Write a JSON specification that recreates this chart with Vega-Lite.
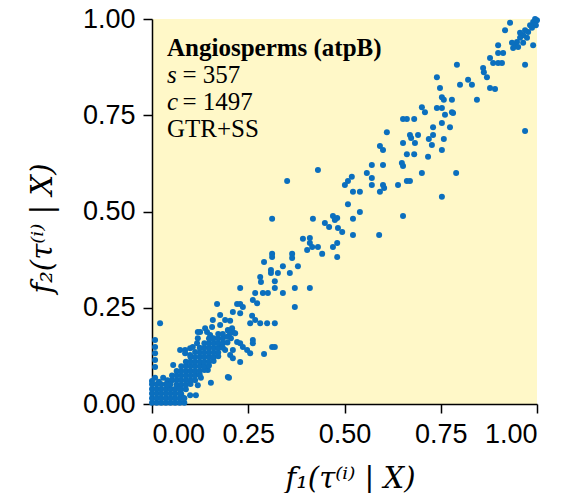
{
  "$schema": "https://vega.github.io/schema/vega-lite/v6.json",
  "width": 385,
  "height": 385,
  "autosize": {"type": "none"},
  "padding": {"left": 152, "top": 19, "right": 26, "bottom": 89},
  "background": "white",
  "config": {
    "view": {"stroke": null, "fill": "#FFF8C8"},
    "axis": {
      "domainColor": "black", "domainWidth": 1.5,
      "tickColor": "black", "tickWidth": 1.5, "tickSize": 9,
      "labelFont": "Liberation Sans", "labelFontSize": 27, "labelColor": "black",
      "grid": false,
      "titleFont": "DejaVu Serif", "titleFontStyle": "italic", "titleFontWeight": "normal",
      "titleFontSize": 29, "titleColor": "black", "titleBaseline": "alphabetic"
    }
  },
  "layer": [
    {
      "data": {"name": "pts", "values": [
        {"f1":0.930,"f2":0.990},{"f1":0.917,"f2":0.971},{"f1":0.990,"f2":0.992},{"f1":1.0,"f2":0.997},{"f1":0.997,"f2":0.984},
        {"f1":0.987,"f2":0.977},{"f1":0.977,"f2":0.966},{"f1":0.964,"f2":0.958},{"f1":0.956,"f2":0.951},{"f1":0.948,"f2":0.940},
        {"f1":0.943,"f2":0.932},{"f1":0.935,"f2":0.938},{"f1":0.938,"f2":0.925},{"f1":0.951,"f2":0.927},{"f1":0.964,"f2":0.938},
        {"f1":0.990,"f2":0.932},{"f1":0.974,"f2":0.951},{"f1":0.995,"f2":1.0},{"f1":0.982,"f2":0.984},{"f1":0.969,"f2":0.971},
        {"f1":0.956,"f2":0.964},{"f1":0.899,"f2":0.932},{"f1":0.899,"f2":0.912},{"f1":0.912,"f2":0.912},{"f1":0.878,"f2":0.899},
        {"f1":0.886,"f2":0.886},{"f1":0.899,"f2":0.886},{"f1":0.909,"f2":0.886},{"f1":0.969,"f2":0.881},{"f1":0.860,"f2":0.873},
        {"f1":0.870,"f2":0.849},{"f1":0.862,"f2":0.862},{"f1":0.792,"f2":0.881},{"f1":0.740,"f2":0.849},{"f1":0.800,"f2":0.829},
        {"f1":0.821,"f2":0.842},{"f1":0.831,"f2":0.829},{"f1":0.878,"f2":0.821},{"f1":0.891,"f2":0.818},{"f1":0.748,"f2":0.821},
        {"f1":0.753,"f2":0.797},{"f1":0.758,"f2":0.790},{"f1":0.779,"f2":0.790},{"f1":0.844,"f2":0.790},{"f1":0.701,"f2":0.771},
        {"f1":0.709,"f2":0.758},{"f1":0.740,"f2":0.769},{"f1":0.753,"f2":0.769},{"f1":0.779,"f2":0.758},{"f1":0.761,"f2":0.751},
        {"f1":0.782,"f2":0.756},{"f1":0.652,"f2":0.740},{"f1":0.662,"f2":0.740},{"f1":0.681,"f2":0.740},{"f1":0.753,"f2":0.730},
        {"f1":0.730,"f2":0.719},{"f1":0.774,"f2":0.719},{"f1":0.610,"f2":0.706},{"f1":0.969,"f2":0.709},{"f1":0.670,"f2":0.699},
        {"f1":0.673,"f2":0.691},{"f1":0.683,"f2":0.678},{"f1":0.691,"f2":0.699},{"f1":0.730,"f2":0.699},{"f1":0.719,"f2":0.688},
        {"f1":0.727,"f2":0.673},{"f1":0.758,"f2":0.688},{"f1":0.652,"f2":0.678},{"f1":0.592,"f2":0.670},{"f1":0.600,"f2":0.660},
        {"f1":0.662,"f2":0.649},{"f1":0.681,"f2":0.649},{"f1":0.717,"f2":0.642},{"f1":0.753,"f2":0.660},{"f1":0.649,"f2":0.626},
        {"f1":0.652,"f2":0.618},{"f1":0.571,"f2":0.621},{"f1":0.600,"f2":0.621},{"f1":0.431,"f2":0.608},{"f1":0.558,"f2":0.600},
        {"f1":0.571,"f2":0.587},{"f1":0.701,"f2":0.600},{"f1":0.790,"f2":0.600},{"f1":0.351,"f2":0.579},{"f1":0.519,"f2":0.590},
        {"f1":0.509,"f2":0.579},{"f1":0.501,"f2":0.569},{"f1":0.662,"f2":0.579},{"f1":0.670,"f2":0.579},{"f1":0.571,"f2":0.569},
        {"f1":0.600,"f2":0.569},{"f1":0.603,"f2":0.561},{"f1":0.592,"f2":0.551},{"f1":0.639,"f2":0.569},{"f1":0.522,"f2":0.551},
        {"f1":0.540,"f2":0.551},{"f1":0.753,"f2":0.538},{"f1":0.509,"f2":0.519},{"f1":0.540,"f2":0.499},{"f1":0.418,"f2":0.481},
        {"f1":0.470,"f2":0.488},{"f1":0.481,"f2":0.483},{"f1":0.475,"f2":0.478},{"f1":0.522,"f2":0.481},{"f1":0.652,"f2":0.488},
        {"f1":0.449,"f2":0.470},{"f1":0.460,"f2":0.460},{"f1":0.483,"f2":0.457},{"f1":0.494,"f2":0.447},{"f1":0.522,"f2":0.439},
        {"f1":0.590,"f2":0.439},{"f1":0.392,"f2":0.429},{"f1":0.410,"f2":0.431},{"f1":0.410,"f2":0.418},{"f1":0.416,"f2":0.408},
        {"f1":0.431,"f2":0.408},{"f1":0.470,"f2":0.408},{"f1":0.481,"f2":0.418},{"f1":0.403,"f2":0.400},{"f1":0.364,"f2":0.390},
        {"f1":0.364,"f2":0.379},{"f1":0.442,"f2":0.390},{"f1":0.481,"f2":0.382},{"f1":0.312,"f2":0.481},{"f1":0.312,"f2":0.390},
        {"f1":0.312,"f2":0.382},{"f1":0.291,"f2":0.369},{"f1":0.340,"f2":0.358},{"f1":0.309,"f2":0.348},{"f1":0.309,"f2":0.340},
        {"f1":0.327,"f2":0.340},{"f1":0.358,"f2":0.340},{"f1":0.379,"f2":0.358},{"f1":0.281,"f2":0.330},{"f1":0.283,"f2":0.317},
        {"f1":0.319,"f2":0.319},{"f1":0.319,"f2":0.301},{"f1":0.340,"f2":0.288},{"f1":0.371,"f2":0.301},{"f1":0.371,"f2":0.252},
        {"f1":0.268,"f2":0.288},{"f1":0.288,"f2":0.288},{"f1":0.301,"f2":0.288},{"f1":0.229,"f2":0.301},{"f1":0.410,"f2":0.301},
        {"f1":0.169,"f2":0.260},{"f1":0.221,"f2":0.260},{"f1":0.229,"f2":0.260},{"f1":0.236,"f2":0.252},{"f1":0.262,"f2":0.270},
        {"f1":0.273,"f2":0.262},{"f1":0.177,"f2":0.231},{"f1":0.210,"f2":0.239},{"f1":0.229,"f2":0.236},{"f1":0.260,"f2":0.229},
        {"f1":0.268,"f2":0.218},{"f1":0.255,"f2":0.210},{"f1":0.281,"f2":0.210},{"f1":0.299,"f2":0.210},{"f1":0.319,"f2":0.210},
        {"f1":0.158,"f2":0.218},{"f1":0.156,"f2":0.200},{"f1":0.177,"f2":0.205},{"f1":0.203,"f2":0.216},{"f1":0.208,"f2":0.197},
        {"f1":0.210,"f2":0.187},{"f1":0.203,"f2":0.184},{"f1":0.216,"f2":0.184},{"f1":0.138,"f2":0.197},{"f1":0.143,"f2":0.187},
        {"f1":0.125,"f2":0.187},{"f1":0.021,"f2":0.210},{"f1":0.262,"f2":0.166},{"f1":0.262,"f2":0.158},{"f1":0.221,"f2":0.161},
        {"f1":0.229,"f2":0.158},{"f1":0.236,"f2":0.148},{"f1":0.247,"f2":0.140},{"f1":0.255,"f2":0.132},{"f1":0.312,"f2":0.148},
        {"f1":0.319,"f2":0.148},{"f1":0.291,"f2":0.130},{"f1":0.210,"f2":0.140},{"f1":0.210,"f2":0.119},{"f1":0.229,"f2":0.109},
        {"f1":0.119,"f2":0.187},{"f1":0.119,"f2":0.171},{"f1":0.008,"f2":0.166},{"f1":0.008,"f2":0.148},{"f1":0.008,"f2":0.132},
        {"f1":0.008,"f2":0.114},{"f1":0.008,"f2":0.096},{"f1":0.073,"f2":0.140},{"f1":0.086,"f2":0.140},{"f1":0.099,"f2":0.145},
        {"f1":0.106,"f2":0.148},{"f1":0.117,"f2":0.158},{"f1":0.200,"f2":0.068},{"f1":0.145,"f2":0.088},{"f1":0.153,"f2":0.055},
        {"f1":0.099,"f2":0.023},{"f1":0.114,"f2":0.023},{"f1":0.190,"f2":0.218},{"f1":0.197,"f2":0.192},
        {"f1":0.055,"f2":0.101},{"f1":0.086,"f2":0.132},{"f1":0.099,"f2":0.127},{"f1":0.112,"f2":0.135},{"f1":0.151,"f2":0.179},
        {"f1":0.158,"f2":0.171},{"f1":0.205,"f2":0.171},{"f1":0.177,"f2":0.148},{"f1":0.190,"f2":0.140},{"f1":0.203,"f2":0.127},
        {"f1":0.119,"f2":0.049},{"f1":0.127,"f2":0.068},{"f1":0.197,"f2":0.070},{"f1":0.075,"f2":0.023},{"f1":0.081,"f2":0.016},
        {"f1":0.008,"f2":0.068},{"f1":0.029,"f2":0.068},
        {"f1":0.04,"f2":0.062},
        {"f1":0.052,"f2":0.062},{"f1":0.052,"f2":0.074},
        {"f1":0.064,"f2":0.050},{"f1":0.064,"f2":0.062},{"f1":0.064,"f2":0.074},{"f1":0.064,"f2":0.086},
        {"f1":0.076,"f2":0.026},{"f1":0.076,"f2":0.038},{"f1":0.076,"f2":0.050},{"f1":0.076,"f2":0.062},{"f1":0.076,"f2":0.074},{"f1":0.076,"f2":0.086},{"f1":0.076,"f2":0.098},
        {"f1":0.088,"f2":0.038},{"f1":0.088,"f2":0.050},{"f1":0.088,"f2":0.062},{"f1":0.088,"f2":0.074},{"f1":0.088,"f2":0.086},{"f1":0.088,"f2":0.098},{"f1":0.088,"f2":0.110},
        {"f1":0.100,"f2":0.052},{"f1":0.100,"f2":0.062},{"f1":0.100,"f2":0.074},{"f1":0.100,"f2":0.086},{"f1":0.100,"f2":0.098},{"f1":0.100,"f2":0.110},{"f1":0.100,"f2":0.122},
        {"f1":0.112,"f2":0.062},{"f1":0.112,"f2":0.074},{"f1":0.112,"f2":0.086},{"f1":0.112,"f2":0.098},{"f1":0.112,"f2":0.110},{"f1":0.112,"f2":0.122},
        {"f1":0.124,"f2":0.076},{"f1":0.124,"f2":0.086},{"f1":0.124,"f2":0.098},{"f1":0.124,"f2":0.110},{"f1":0.124,"f2":0.122},{"f1":0.124,"f2":0.134},{"f1":0.124,"f2":0.146},
        {"f1":0.136,"f2":0.088},{"f1":0.136,"f2":0.098},{"f1":0.136,"f2":0.110},{"f1":0.136,"f2":0.122},{"f1":0.136,"f2":0.134},{"f1":0.136,"f2":0.146},{"f1":0.136,"f2":0.158},
        {"f1":0.148,"f2":0.100},{"f1":0.148,"f2":0.110},{"f1":0.148,"f2":0.122},{"f1":0.148,"f2":0.134},{"f1":0.148,"f2":0.146},{"f1":0.148,"f2":0.158},{"f1":0.148,"f2":0.170},
        {"f1":0.160,"f2":0.112},{"f1":0.160,"f2":0.122},{"f1":0.160,"f2":0.134},{"f1":0.160,"f2":0.146},{"f1":0.160,"f2":0.158},{"f1":0.160,"f2":0.170},
        {"f1":0.172,"f2":0.124},{"f1":0.172,"f2":0.134},{"f1":0.172,"f2":0.146},{"f1":0.172,"f2":0.158},{"f1":0.172,"f2":0.170},{"f1":0.172,"f2":0.182},
        {"f1":0.184,"f2":0.146},{"f1":0.184,"f2":0.158},{"f1":0.184,"f2":0.170},{"f1":0.184,"f2":0.182},
        {"f1":0.196,"f2":0.160},{"f1":0.196,"f2":0.175},{"f1":0.198,"f2":0.190},
        {"f1":0.0,"f2":0.003},{"f1":0.012,"f2":0.003},{"f1":0.024,"f2":0.003},{"f1":0.036,"f2":0.003},{"f1":0.048,"f2":0.003},
        {"f1":0.060,"f2":0.003},{"f1":0.072,"f2":0.003},{"f1":0.084,"f2":0.003},
        {"f1":0.0,"f2":0.015},{"f1":0.012,"f2":0.015},{"f1":0.024,"f2":0.015},{"f1":0.036,"f2":0.015},{"f1":0.048,"f2":0.015},
        {"f1":0.060,"f2":0.015},{"f1":0.072,"f2":0.015},{"f1":0.084,"f2":0.015},
        {"f1":0.0,"f2":0.027},{"f1":0.012,"f2":0.027},{"f1":0.024,"f2":0.027},{"f1":0.036,"f2":0.027},{"f1":0.048,"f2":0.027},
        {"f1":0.060,"f2":0.027},{"f1":0.072,"f2":0.027},
        {"f1":0.0,"f2":0.039},{"f1":0.012,"f2":0.039},{"f1":0.024,"f2":0.039},{"f1":0.036,"f2":0.039},{"f1":0.048,"f2":0.039},
        {"f1":0.060,"f2":0.039},{"f1":0.072,"f2":0.039},
        {"f1":0.0,"f2":0.051},{"f1":0.012,"f2":0.051},{"f1":0.024,"f2":0.051},{"f1":0.036,"f2":0.051},{"f1":0.048,"f2":0.051},
        {"f1":0.0,"f2":0.060},{"f1":0.018,"f2":0.058},{"f1":0.040,"f2":0.050}
      ]},
      "mark": {"type": "circle", "size": 36, "opacity": 1, "color": "#0B6FBE"},
      "encoding": {
        "x": {"field": "f1", "type": "quantitative",
              "scale": {"domain": [0, 1], "nice": false},
              "axis": {"values": [0, 0.25, 0.5, 0.75, 1], "format": ".2f", "labelPadding": 8,
                       "title": "f₁(τ⁽ⁱ⁾ | X)", "titleX": 198, "titleY": 83}},
        "y": {"field": "f2", "type": "quantitative",
              "scale": {"domain": [0, 1], "nice": false},
              "axis": {"values": [0, 0.25, 0.5, 0.75, 1], "format": ".2f", "labelPadding": 8,
                       "title": "f₂(τ⁽ⁱ⁾ | X)", "titleX": -101, "titleY": 209}}
      }
    },
    {
      "data": {"values": [{}]},
      "mark": {"type": "text", "text": "Angiosperms (atpB)", "font": "Liberation Serif", "fontWeight": "bold", "fontSize": 25, "align": "left", "baseline": "alphabetic", "color": "black"},
      "encoding": {"x": {"datum": 0.039}, "y": {"datum": 0.904}}
    },
    {
      "data": {"values": [{}]},
      "mark": {"type": "text", "text": "s", "font": "Liberation Serif", "fontStyle": "italic", "fontSize": 25, "align": "left", "baseline": "alphabetic", "color": "black"},
      "encoding": {"x": {"datum": 0.039}, "y": {"datum": 0.834}}
    },
    {
      "data": {"values": [{}]},
      "mark": {"type": "text", "text": "= 357", "font": "Liberation Serif", "fontSize": 25, "align": "left", "baseline": "alphabetic", "color": "black"},
      "encoding": {"x": {"datum": 0.079}, "y": {"datum": 0.834}}
    },
    {
      "data": {"values": [{}]},
      "mark": {"type": "text", "text": "c", "font": "Liberation Serif", "fontStyle": "italic", "fontSize": 25, "align": "left", "baseline": "alphabetic", "color": "black"},
      "encoding": {"x": {"datum": 0.039}, "y": {"datum": 0.764}}
    },
    {
      "data": {"values": [{}]},
      "mark": {"type": "text", "text": "= 1497", "font": "Liberation Serif", "fontSize": 25, "align": "left", "baseline": "alphabetic", "color": "black"},
      "encoding": {"x": {"datum": 0.079}, "y": {"datum": 0.764}}
    },
    {
      "data": {"values": [{}]},
      "mark": {"type": "text", "text": "GTR+SS", "font": "Liberation Serif", "fontSize": 25, "align": "left", "baseline": "alphabetic", "color": "black"},
      "encoding": {"x": {"datum": 0.039}, "y": {"datum": 0.694}}
    }
  ]
}
